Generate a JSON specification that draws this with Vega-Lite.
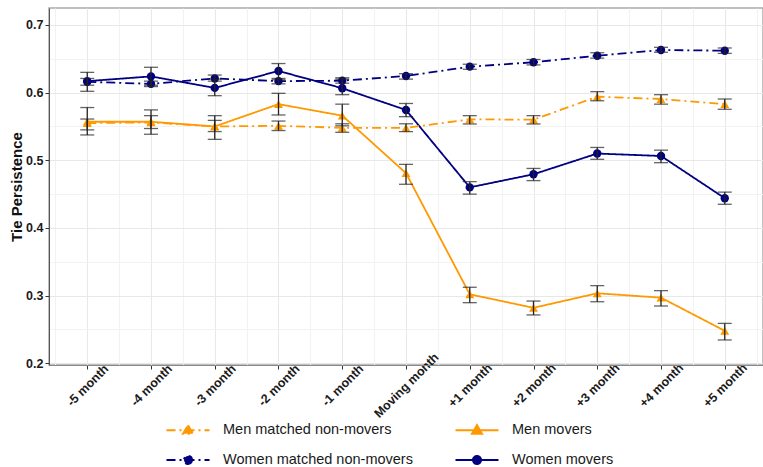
{
  "$schema": "https://vega.github.io/schema/vega-lite/v6.json",
  "width": 714,
  "height": 357,
  "autosize": {"type": "none"},
  "padding": {"left": 49, "top": 8, "right": 0, "bottom": 102},
  "background": "white",
  "config": {
    "font": "Liberation Sans",
    "view": {"stroke": "#ababab", "strokeWidth": 1.5},
    "axis": {"labelFont": "Liberation Sans", "titleFont": "Liberation Sans"}
  },
  "data": {"values": [
    {"month": -5, "series": "Women movers", "v": 0.617, "lo": 0.602, "hi": 0.630},
    {"month": -4, "series": "Women movers", "v": 0.624, "lo": 0.611, "hi": 0.6375},
    {"month": -3, "series": "Women movers", "v": 0.607, "lo": 0.5955, "hi": 0.620},
    {"month": -2, "series": "Women movers", "v": 0.632, "lo": 0.619, "hi": 0.643},
    {"month": -1, "series": "Women movers", "v": 0.6065, "lo": 0.597, "hi": 0.620},
    {"month": 0, "series": "Women movers", "v": 0.5744, "lo": 0.5645, "hi": 0.584},
    {"month": 1, "series": "Women movers", "v": 0.460, "lo": 0.450, "hi": 0.4685},
    {"month": 2, "series": "Women movers", "v": 0.4794, "lo": 0.470, "hi": 0.488},
    {"month": 3, "series": "Women movers", "v": 0.510, "lo": 0.5015, "hi": 0.519},
    {"month": 4, "series": "Women movers", "v": 0.5064, "lo": 0.4965, "hi": 0.515},
    {"month": 5, "series": "Women movers", "v": 0.444, "lo": 0.435, "hi": 0.453},
    {"month": -5, "series": "Women matched non-movers", "v": 0.616, "lo": 0.611, "hi": 0.621},
    {"month": -4, "series": "Women matched non-movers", "v": 0.613, "lo": 0.609, "hi": 0.617},
    {"month": -3, "series": "Women matched non-movers", "v": 0.621, "lo": 0.617, "hi": 0.626},
    {"month": -2, "series": "Women matched non-movers", "v": 0.617, "lo": 0.613, "hi": 0.621},
    {"month": -1, "series": "Women matched non-movers", "v": 0.6177, "lo": 0.614, "hi": 0.622},
    {"month": 0, "series": "Women matched non-movers", "v": 0.6246, "lo": 0.620, "hi": 0.628},
    {"month": 1, "series": "Women matched non-movers", "v": 0.6384, "lo": 0.6345, "hi": 0.642},
    {"month": 2, "series": "Women matched non-movers", "v": 0.6449, "lo": 0.641, "hi": 0.649},
    {"month": 3, "series": "Women matched non-movers", "v": 0.6546, "lo": 0.651, "hi": 0.659},
    {"month": 4, "series": "Women matched non-movers", "v": 0.663, "lo": 0.6597, "hi": 0.667},
    {"month": 5, "series": "Women matched non-movers", "v": 0.662, "lo": 0.658, "hi": 0.666},
    {"month": -5, "series": "Men movers", "v": 0.557, "lo": 0.5375, "hi": 0.578},
    {"month": -4, "series": "Men movers", "v": 0.557, "lo": 0.5385, "hi": 0.5745},
    {"month": -3, "series": "Men movers", "v": 0.550, "lo": 0.531, "hi": 0.566},
    {"month": -2, "series": "Men movers", "v": 0.583, "lo": 0.567, "hi": 0.599},
    {"month": -1, "series": "Men movers", "v": 0.566, "lo": 0.551, "hi": 0.583},
    {"month": 0, "series": "Men movers", "v": 0.481, "lo": 0.4646, "hi": 0.494},
    {"month": 1, "series": "Men movers", "v": 0.302, "lo": 0.2896, "hi": 0.3124},
    {"month": 2, "series": "Men movers", "v": 0.282, "lo": 0.2715, "hi": 0.292},
    {"month": 3, "series": "Men movers", "v": 0.3035, "lo": 0.291, "hi": 0.3148},
    {"month": 4, "series": "Men movers", "v": 0.297, "lo": 0.2847, "hi": 0.3074},
    {"month": 5, "series": "Men movers", "v": 0.248, "lo": 0.2345, "hi": 0.259},
    {"month": -5, "series": "Men matched non-movers", "v": 0.555, "lo": 0.545, "hi": 0.561},
    {"month": -4, "series": "Men matched non-movers", "v": 0.556, "lo": 0.547, "hi": 0.566},
    {"month": -3, "series": "Men matched non-movers", "v": 0.550, "lo": 0.5425, "hi": 0.559},
    {"month": -2, "series": "Men matched non-movers", "v": 0.551, "lo": 0.544, "hi": 0.558},
    {"month": -1, "series": "Men matched non-movers", "v": 0.548, "lo": 0.5414, "hi": 0.554},
    {"month": 0, "series": "Men matched non-movers", "v": 0.548, "lo": 0.5424, "hi": 0.554},
    {"month": 1, "series": "Men matched non-movers", "v": 0.5606, "lo": 0.5537, "hi": 0.566},
    {"month": 2, "series": "Men matched non-movers", "v": 0.560, "lo": 0.5537, "hi": 0.566},
    {"month": 3, "series": "Men matched non-movers", "v": 0.594, "lo": 0.588, "hi": 0.6015},
    {"month": 4, "series": "Men matched non-movers", "v": 0.5906, "lo": 0.583, "hi": 0.597},
    {"month": 5, "series": "Men matched non-movers", "v": 0.583, "lo": 0.5754, "hi": 0.5906}
  ]},
  "encoding": {
    "x": {
      "field": "month", "type": "quantitative",
      "scale": {"domain": [-5.6, 5.6], "nice": false, "zero": false},
      "axis": {
        "title": null,
        "values": [-5.5, -5, -4.5, -4, -3.5, -3, -2.5, -2, -1.5, -1, -0.5, 0, 0.5, 1, 1.5, 2, 2.5, 3, 3.5, 4, 4.5, 5, 5.5],
        "labelExpr": "datum.value % 1 != 0 ? '' : (datum.value == 0 ? 'Moving month' : (datum.value > 0 ? '+' + datum.value + ' month' : datum.value + ' month'))",
        "labelAngle": -45, "labelAlign": "center", "labelBaseline": "middle",
        "labelFontWeight": "bold", "labelFontSize": 12.5, "labelColor": "#1a1a1a",
        "labelPadding": 16, "labelOverlap": false, "labelFlush": false,
        "tickSize": 4, "tickColor": "#333333",
        "tickOpacity": {"condition": {"test": "datum.value % 1 != 0", "value": 0}, "value": 1},
        "domainColor": "#888888",
        "grid": true,
        "gridColor": {"condition": {"test": "datum.value % 1 != 0", "value": "#f2f2f2"}, "value": "#e8e8e8"},
        "gridWidth": 1.1
      }
    },
    "y": {
      "field": "v", "type": "quantitative",
      "scale": {"domain": [0.1975, 0.7251], "nice": false, "zero": false},
      "axis": {
        "title": "Tie Persistence", "titleFontSize": 15, "titleFontWeight": "bold", "titleColor": "#111111", "titlePadding": 1,
        "values": [0.2, 0.25, 0.3, 0.35, 0.4, 0.45, 0.5, 0.55, 0.6, 0.65, 0.7],
        "labelExpr": "round(datum.value * 100) % 10 == 0 ? format(datum.value, '.1f') : ''",
        "labelFontWeight": "bold", "labelFontSize": 12.5, "labelColor": "#1a1a1a", "labelPadding": 2,
        "tickSize": 4, "tickColor": "#333333",
        "tickOpacity": {"condition": {"test": "round(datum.value * 100) % 10 != 0", "value": 0}, "value": 1},
        "domainColor": "#555555",
        "grid": true,
        "gridColor": {"condition": {"test": "round(datum.value * 100) % 10 != 0", "value": "#f2f2f2"}, "value": "#e8e8e8"},
        "gridWidth": 1.1
      }
    }
  },
  "layer": [
    {
      "mark": {"type": "line", "strokeWidth": 1.8},
      "encoding": {
        "color": {
          "field": "series", "type": "nominal",
          "scale": {"domain": ["Men matched non-movers", "Men movers", "Women matched non-movers", "Women movers"], "range": ["#FF9900", "#FF9900", "#000080", "#000080"]},
          "legend": {
            "title": null, "orient": "none", "legendX": 128, "legendY": 411,
            "columns": 2, "direction": "horizontal", "columnPadding": 38, "rowPadding": 11,
            "labelFont": "Liberation Sans", "labelFontSize": 14.5, "labelColor": "#1a1a1a", "labelLimit": 400,
            "labelOffset": 24, "symbolSize": 400, "symbolStrokeWidth": 2,
            "encode": {"symbols": {"update": {
              "shape": {"signal": "indexof(datum.value, 'Men') === 0 ? 'M-2.15,0L2.15,0M0,-0.5L0.5,0.35L-0.5,0.35Z' : 'M-2.15,0L2.15,0M0.4,0A0.4,0.4,0,1,1,-0.4,0A0.4,0.4,0,1,1,0.4,0Z'"},
              "fill": {"scale": "color", "field": "value"},
              "fillOpacity": {"value": 1}
            }}}
          }
        },
        "strokeDash": {
          "field": "series", "type": "nominal",
          "scale": {"domain": ["Men matched non-movers", "Men movers", "Women matched non-movers", "Women movers"], "range": [[9, 4, 2, 4], [1, 0], [9, 4, 2, 4], [1, 0]]},
          "legend": {"title": null}
        }
      }
    },
    {
      "transform": [{"filter": "indexof(datum.series, 'Men') === 0"}],
      "mark": {"type": "point", "filled": true, "opacity": 1, "shape": "triangle-up", "size": 80},
      "encoding": {
        "color": {"field": "series", "type": "nominal"}
      }
    },
    {
      "transform": [{"filter": "indexof(datum.series, 'Women') === 0"}],
      "mark": {"type": "point", "filled": true, "opacity": 1, "shape": "circle", "size": 70},
      "encoding": {
        "color": {"field": "series", "type": "nominal"}
      }
    },
    {
      "mark": {"type": "errorbar", "ticks": {"size": 14, "thickness": 1.3, "color": "#222222"}, "rule": {"strokeWidth": 1.3, "color": "#222222"}},
      "encoding": {
        "y": {"field": "lo", "type": "quantitative"},
        "y2": {"field": "hi"}
      }
    }
  ]
}
